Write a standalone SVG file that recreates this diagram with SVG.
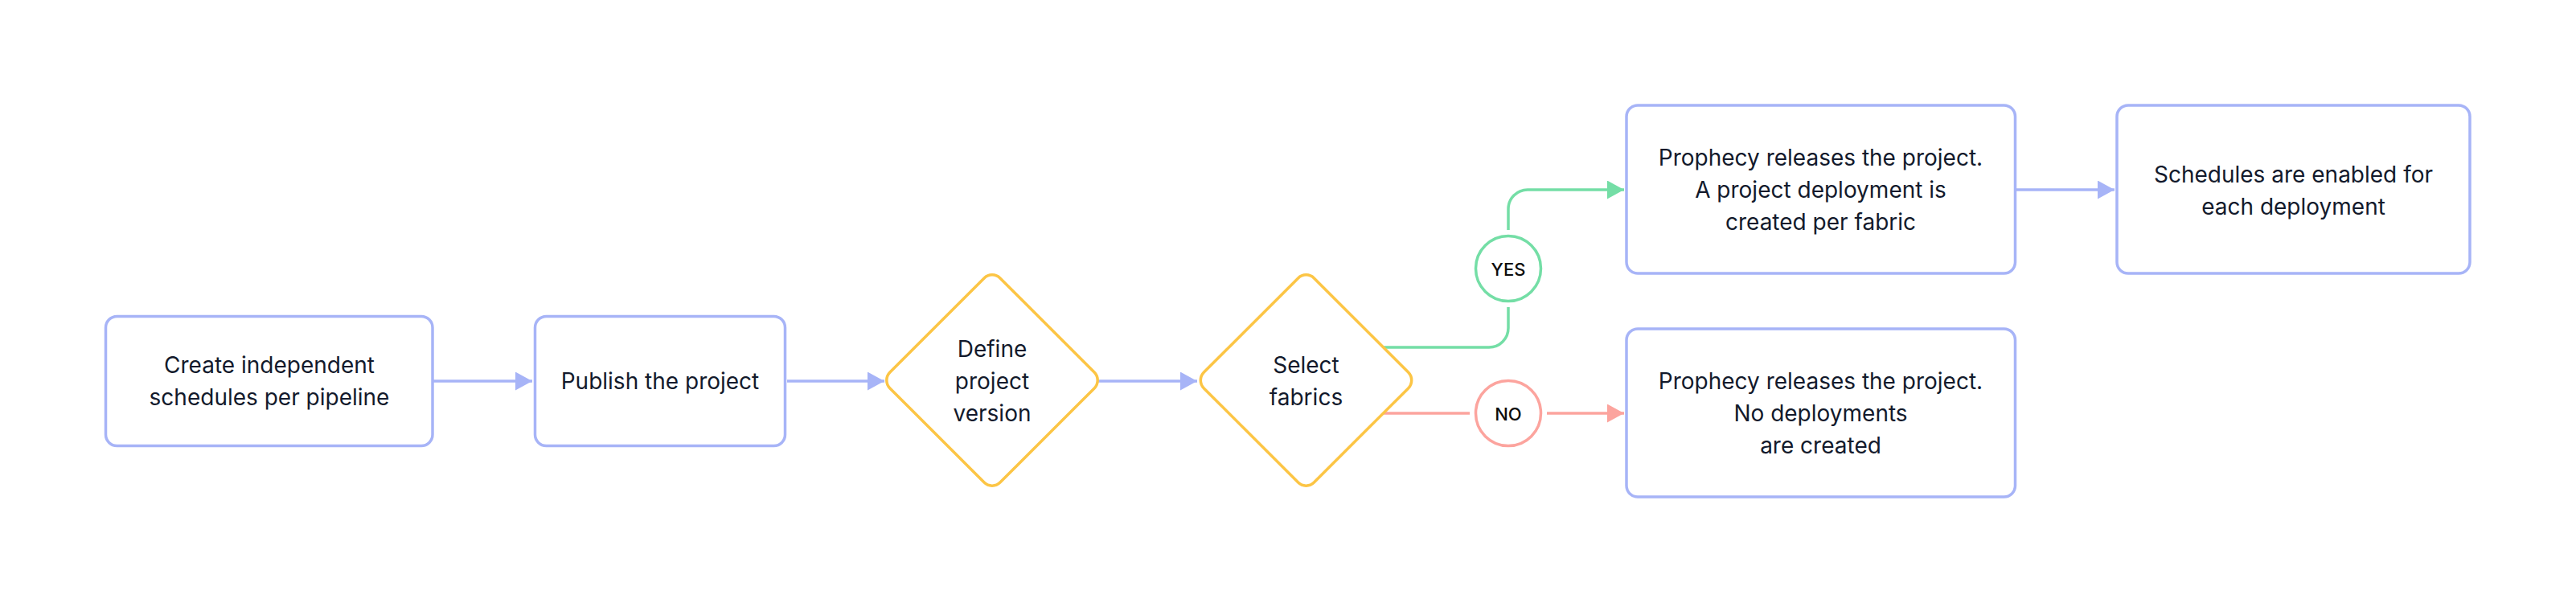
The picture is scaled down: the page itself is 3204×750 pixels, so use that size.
<svg xmlns="http://www.w3.org/2000/svg" width="3204" height="750" viewBox="0 0 3204 750">
  <style>
    .box { fill: #ffffff; stroke: #A7B4F7; stroke-width: 3.5; }
    .dia { fill: #ffffff; stroke: #FCC545; stroke-width: 3.5; }
    .lbl { font-family: Inter, "Liberation Sans", sans-serif; font-size: 28px; fill: #131a2c; text-anchor: middle; }
    .tag { font-family: Inter, "Liberation Sans", sans-serif; font-size: 22px; font-weight: 500; fill: #0d0d0d; text-anchor: middle; }
    .cb { fill: none; stroke: #A7B4F7; stroke-width: 3.5; }
    .cg { fill: none; stroke: #74DEA6; stroke-width: 3.5; }
    .cr { fill: none; stroke: #FCA49E; stroke-width: 3.5; }
  </style>
  <defs>
    <marker id="ab" viewBox="0 0 21 23" refX="21" refY="11.5" markerWidth="21" markerHeight="23" markerUnits="userSpaceOnUse" orient="auto">
      <path d="M0,0 L21,11.5 L0,23 Z" fill="#A7B4F7"/>
    </marker>
    <marker id="ag" viewBox="0 0 21 23" refX="21" refY="11.5" markerWidth="21" markerHeight="23" markerUnits="userSpaceOnUse" orient="auto">
      <path d="M0,0 L21,11.5 L0,23 Z" fill="#74DEA6"/>
    </marker>
    <marker id="ar" viewBox="0 0 21 23" refX="21" refY="11.5" markerWidth="21" markerHeight="23" markerUnits="userSpaceOnUse" orient="auto">
      <path d="M0,0 L21,11.5 L0,23 Z" fill="#FCA49E"/>
    </marker>
    <path id="diamond" d="M -9.9,-127.1 A 14 14 0 0 1 9.9,-127.1 L 127.1,-9.9 A 14 14 0 0 1 127.1,9.9 L 9.9,127.1 A 14 14 0 0 1 -9.9,127.1 L -127.1,9.9 A 14 14 0 0 1 -127.1,-9.9 Z"/>
  </defs>
  <rect width="3204" height="750" fill="#ffffff"/>

  <g id="connectors">
    <path class="cb" d="M539 474 H662" marker-end="url(#ab)"/>
    <path class="cb" d="M979 474 H1100" marker-end="url(#ab)"/>
    <path class="cb" d="M1366 474 H1489" marker-end="url(#ab)"/>
    <path class="cg" d="M1721 432 H1852 A24 24 0 0 0 1876 408 V382"/>
    <path class="cg" d="M1876 286 V260 A24 24 0 0 1 1900 236 H2020" marker-end="url(#ag)"/>
    <path class="cr" d="M1720 514 H1828"/>
    <path class="cr" d="M1924 514 H2020" marker-end="url(#ar)"/>
    <path class="cb" d="M2508 236 H2630" marker-end="url(#ab)"/>
  </g>

  <g id="create-schedules">
    <rect class="box" x="131.5" y="393.5" width="406.5" height="161" rx="14"/>
    <text class="lbl" x="335" y="464">Create independent</text>
    <text class="lbl" x="335" y="504">schedules per pipeline</text>
  </g>

  <g id="publish-project">
    <rect class="box" x="665.5" y="393.5" width="311" height="161" rx="14"/>
    <text class="lbl" x="821" y="484">Publish the project</text>
  </g>

  <g id="define-version">
    <use href="#diamond" class="dia" transform="translate(1234 473)"/>
    <text class="lbl" x="1234" y="444">Define</text>
    <text class="lbl" x="1234" y="484">project</text>
    <text class="lbl" x="1234" y="524">version</text>
  </g>

  <g id="select-fabrics">
    <use href="#diamond" class="dia" transform="translate(1624.5 473)"/>
    <text class="lbl" x="1624.5" y="464">Select</text>
    <text class="lbl" x="1624.5" y="504">fabrics</text>
  </g>

  <g id="yes">
    <circle cx="1876" cy="334" r="40.5" fill="#ffffff" stroke="#74DEA6" stroke-width="3.5"/>
    <text class="tag" x="1876" y="342.5">YES</text>
  </g>

  <g id="no">
    <circle cx="1876" cy="514" r="40.5" fill="#ffffff" stroke="#FCA49E" stroke-width="3.5"/>
    <text class="tag" x="1876" y="522.5">NO</text>
  </g>

  <g id="release-deploy">
    <rect class="box" x="2023" y="131" width="483.5" height="209" rx="14"/>
    <text class="lbl" x="2264.5" y="206">Prophecy releases the project.</text>
    <text class="lbl" x="2264.5" y="246">A project deployment is</text>
    <text class="lbl" x="2264.5" y="286">created per fabric</text>
  </g>

  <g id="schedules-enabled">
    <rect class="box" x="2633" y="131" width="439" height="209" rx="14"/>
    <text class="lbl" x="2852.5" y="226.5">Schedules are enabled for</text>
    <text class="lbl" x="2852.5" y="266.5">each deployment</text>
  </g>

  <g id="release-no-deploy">
    <rect class="box" x="2023" y="409" width="483.5" height="209" rx="14"/>
    <text class="lbl" x="2264.5" y="483.5">Prophecy releases the project.</text>
    <text class="lbl" x="2264.5" y="523.5">No deployments</text>
    <text class="lbl" x="2264.5" y="563.5">are created</text>
  </g>
</svg>
